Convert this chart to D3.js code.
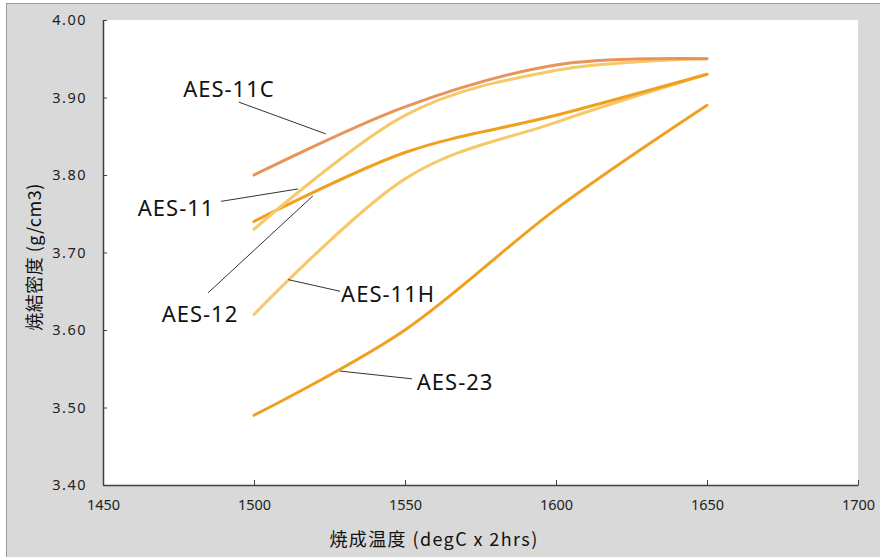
<!DOCTYPE html>
<html><head><meta charset="utf-8">
<script src="https://cdn.jsdelivr.net/npm/d3@7"></script>
<style>body{margin:0;background:#fff}svg{display:block}</style>
</head><body><svg id="c" width="880" height="557"></svg>
<script>
const temps = [1500, 1550, 1600, 1650];
const aes11C = [3.80, 3.888, 3.942, 3.95];
const aes12  = [3.73, 3.877, 3.935, 3.95];
const aes11  = [3.74, 3.829, 3.877, 3.93];
const aes11H = [3.62, 3.795, 3.868, 3.93];
const aes23  = [3.49, 3.60, 3.756, 3.89];
const seriesNames = ["AES-11C", "AES-12", "AES-11", "AES-11H", "AES-23"];
const xTicks = [1450, 1500, 1550, 1600, 1650, 1700];
const yTicks = [3.40, 3.50, 3.60, 3.70, 3.80, 3.90, 4.00];
const xTitle = "焼成温度 (degC x 2hrs)";
const yTitle = "焼結密度 (g/cm3)";

const colors = {"AES-11C":"#e8935a","AES-12":"#f7c868","AES-11":"#f0a020","AES-11H":"#f7c868","AES-23":"#f0a020"};
const values = {"AES-11C":aes11C,"AES-12":aes12,"AES-11":aes11,"AES-11H":aes11H,"AES-23":aes23};

// annotation anchors in data units: label centre, leader start, leader end
const notes = [
  {name:"AES-11C", t:[1491.7,3.912], a:[1495.0,3.894], b:[1523.8,3.853]},
  {name:"AES-11",  t:[1474.2,3.759], a:[1489.1,3.766], b:[1514.6,3.782]},
  {name:"AES-12",  t:[1482.1,3.622], a:[1484.8,3.648], b:[1519.5,3.773]},
  {name:"AES-11H", t:[1544.4,3.648], a:[1511.3,3.665], b:[1528.5,3.650]},
  {name:"AES-23",  t:[1566.6,3.534], a:[1528.5,3.547], b:[1552.3,3.537]}
];

const svg = d3.select("#c");
svg.append("rect").attr("x",6.5).attr("y",3.5).attr("width",880).attr("height",560)
  .attr("fill","#d9d9d9").attr("stroke","#9a9a9a").attr("stroke-width",1);

const L=103, R=858, T=20, B=485;
const x = d3.scaleLinear().domain([1450,1700]).range([L,R]);
const y = d3.scaleLinear().domain([3.4,4.0]).range([B,T]);

svg.append("rect").attr("x",L).attr("y",T).attr("width",R-L).attr("height",B-T).attr("fill","#fff");

const font = "'Noto Sans', 'DejaVu Sans', sans-serif";
const cjk = "'Noto Sans CJK JP', 'Noto Sans', sans-serif";

const xa = svg.append("g").attr("transform",`translate(0,${B})`)
  .call(d3.axisBottom(x).tickValues(xTicks).tickFormat(d3.format("d")).tickSizeInner(-5).tickSizeOuter(0).tickPadding(15));
const ya = svg.append("g").attr("transform",`translate(${L},0)`)
  .call(d3.axisLeft(y).tickValues(yTicks).tickFormat(d3.format(".2f")).tickSizeInner(-4).tickSizeOuter(0).tickPadding(16));
[xa,ya].forEach(g=>{
  g.select(".domain").attr("stroke","#404040").attr("stroke-width",1.5);
  g.selectAll(".tick line").attr("stroke","#404040");
  g.selectAll(".tick text").attr("fill","#222").style("font-family",font).style("font-size","14.5px");
});
ya.selectAll(".tick text").style("letter-spacing","1.5px");

const line = d3.line().x((d,i)=>x(temps[i])).y(d=>y(d)).curve(d3.curveCatmullRom.alpha(0));
const order = ["AES-23","AES-11H","AES-11","AES-12","AES-11C"];
order.forEach(n=>{
  svg.append("path").attr("d",line(values[n])).attr("fill","none")
    .attr("stroke",colors[n]).attr("stroke-width",3).attr("stroke-linecap","round");
});

notes.forEach(nt=>{
  svg.append("line").attr("x1",x(nt.a[0])).attr("y1",y(nt.a[1])).attr("x2",x(nt.b[0])).attr("y2",y(nt.b[1]))
    .attr("stroke","#333").attr("stroke-width",1);
  svg.append("text").attr("x",x(nt.t[0])).attr("y",y(nt.t[1])).attr("text-anchor","middle")
    .attr("dominant-baseline","central").style("font-family",font).style("font-size","22px")
    .style("letter-spacing","1px").attr("fill","#111").text(nt.name);
});

svg.append("text").attr("x",434).attr("y",538).attr("text-anchor","middle").attr("dominant-baseline","central")
  .style("font-family",cjk).style("font-size","18px").style("letter-spacing","1.4px").attr("fill","#111").text(xTitle);
svg.append("text").attr("transform",`translate(33,257) rotate(-90)`).attr("text-anchor","middle").attr("dominant-baseline","central")
  .style("font-family",cjk).style("font-size","18px").style("letter-spacing","0.5px").attr("fill","#111").text(yTitle);
</script></body></html>
